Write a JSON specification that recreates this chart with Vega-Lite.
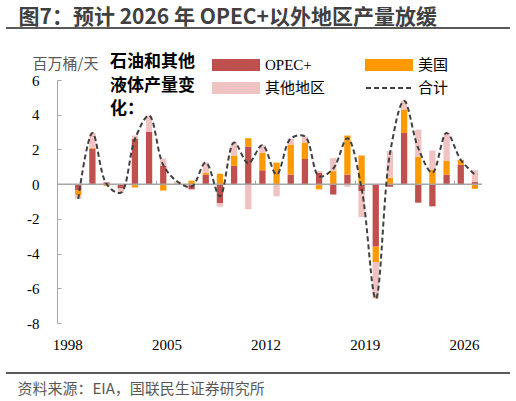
{
  "$schema": "https://vega.github.io/schema/vega-lite/v6.json",
  "width": 504,
  "height": 243,
  "autosize": {"type": "none"},
  "padding": {"left": 6, "top": 80, "right": 6, "bottom": 78},
  "background": "white",
  "config": {
    "view": {"stroke": null},
    "axis": {"labelOverlap": false},
    "locale": {"number": {"decimal": ".", "thousands": ",", "grouping": [3], "currency": ["$", ""], "minus": "-"}}
  },
  "resolve": {"axis": {"x": "independent", "y": "independent"}},
  "datasets": {
    "stackorder": [
      {"series": "OPEC+", "rank": 1},
      {"series": "美国", "rank": 2},
      {"series": "其他地区", "rank": 3}
    ],
    "parts": [
      {"year": "1999", "series": "OPEC+", "value": -0.35}, {"year": "1999", "series": "美国", "value": -0.3}, {"year": "1999", "series": "其他地区", "value": -0.2},
      {"year": "2000", "series": "OPEC+", "value": 2.05}, {"year": "2000", "series": "美国", "value": 0.05}, {"year": "2000", "series": "其他地区", "value": 0.85},
      {"year": "2001", "series": "OPEC+", "value": 0.1}, {"year": "2001", "series": "美国", "value": -0.1}, {"year": "2001", "series": "其他地区", "value": 0.0},
      {"year": "2002", "series": "OPEC+", "value": -0.25}, {"year": "2002", "series": "美国", "value": 0.0}, {"year": "2002", "series": "其他地区", "value": -0.25},
      {"year": "2003", "series": "OPEC+", "value": 2.62}, {"year": "2003", "series": "美国", "value": -0.2}, {"year": "2003", "series": "其他地区", "value": 0.18},
      {"year": "2004", "series": "OPEC+", "value": 3.02}, {"year": "2004", "series": "美国", "value": 0.0}, {"year": "2004", "series": "其他地区", "value": 0.93},
      {"year": "2005", "series": "OPEC+", "value": 1.07}, {"year": "2005", "series": "美国", "value": -0.37}, {"year": "2005", "series": "其他地区", "value": 0.4},
      {"year": "2006", "series": "OPEC+", "value": 0.02}, {"year": "2006", "series": "美国", "value": 0.03}, {"year": "2006", "series": "其他地区", "value": 0.1},
      {"year": "2007", "series": "OPEC+", "value": -0.3}, {"year": "2007", "series": "美国", "value": 0.2}, {"year": "2007", "series": "其他地区", "value": -0.05},
      {"year": "2008", "series": "OPEC+", "value": 0.55}, {"year": "2008", "series": "美国", "value": 0.1}, {"year": "2008", "series": "其他地区", "value": 0.6},
      {"year": "2009", "series": "OPEC+", "value": -1.1}, {"year": "2009", "series": "美国", "value": 0.6}, {"year": "2009", "series": "其他地区", "value": -0.2},
      {"year": "2010", "series": "OPEC+", "value": 1.05}, {"year": "2010", "series": "美国", "value": 0.6}, {"year": "2010", "series": "其他地区", "value": 0.75},
      {"year": "2011", "series": "OPEC+", "value": 2.15}, {"year": "2011", "series": "美国", "value": 0.5}, {"year": "2011", "series": "其他地区", "value": -1.45},
      {"year": "2012", "series": "OPEC+", "value": 0.8}, {"year": "2012", "series": "美国", "value": 1.0}, {"year": "2012", "series": "其他地区", "value": 0.45},
      {"year": "2013", "series": "OPEC+", "value": -0.05}, {"year": "2013", "series": "美国", "value": 1.24}, {"year": "2013", "series": "其他地区", "value": -0.65},
      {"year": "2014", "series": "OPEC+", "value": 0.55}, {"year": "2014", "series": "美国", "value": 1.73}, {"year": "2014", "series": "其他地区", "value": 0.35},
      {"year": "2015", "series": "OPEC+", "value": 1.45}, {"year": "2015", "series": "美国", "value": 0.95}, {"year": "2015", "series": "其他地区", "value": 0.35},
      {"year": "2016", "series": "OPEC+", "value": 0.65}, {"year": "2016", "series": "美国", "value": -0.3}, {"year": "2016", "series": "其他地区", "value": 0.1},
      {"year": "2017", "series": "OPEC+", "value": -0.6}, {"year": "2017", "series": "美国", "value": 0.75}, {"year": "2017", "series": "其他地区", "value": 0.75},
      {"year": "2018", "series": "OPEC+", "value": 0.55}, {"year": "2018", "series": "美国", "value": 2.25}, {"year": "2018", "series": "其他地区", "value": -0.15},
      {"year": "2019", "series": "OPEC+", "value": -0.4}, {"year": "2019", "series": "美国", "value": 1.65}, {"year": "2019", "series": "其他地区", "value": -1.5},
      {"year": "2020", "series": "OPEC+", "value": -3.6}, {"year": "2020", "series": "美国", "value": -0.9}, {"year": "2020", "series": "其他地区", "value": -2.1},
      {"year": "2021", "series": "OPEC+", "value": -0.15}, {"year": "2021", "series": "美国", "value": 0.37}, {"year": "2021", "series": "其他地区", "value": 1.53},
      {"year": "2022", "series": "OPEC+", "value": 2.95}, {"year": "2022", "series": "美国", "value": 1.35}, {"year": "2022", "series": "其他地区", "value": 0.5},
      {"year": "2023", "series": "OPEC+", "value": -1.07}, {"year": "2023", "series": "美国", "value": 1.58}, {"year": "2023", "series": "其他地区", "value": 1.56},
      {"year": "2024", "series": "OPEC+", "value": -1.28}, {"year": "2024", "series": "美国", "value": 0.84}, {"year": "2024", "series": "其他地区", "value": 1.1},
      {"year": "2025", "series": "OPEC+", "value": 0.55}, {"year": "2025", "series": "美国", "value": 0.8}, {"year": "2025", "series": "其他地区", "value": 1.6},
      {"year": "2026", "series": "OPEC+", "value": 1.12}, {"year": "2026", "series": "美国", "value": 0.28}, {"year": "2026", "series": "其他地区", "value": 0.0},
      {"year": "2027", "series": "OPEC+", "value": 0.12}, {"year": "2027", "series": "美国", "value": -0.27}, {"year": "2027", "series": "其他地区", "value": 0.68}
    ],
    "total": [
      {"year": "1999", "total": -0.85},
      {"year": "2000", "total": 2.95},
      {"year": "2001", "total": 0.0},
      {"year": "2002", "total": -0.5},
      {"year": "2003", "total": 2.6},
      {"year": "2004", "total": 3.95},
      {"year": "2005", "total": 1.1},
      {"year": "2006", "total": 0.15},
      {"year": "2007", "total": -0.15},
      {"year": "2008", "total": 1.25},
      {"year": "2009", "total": -0.7},
      {"year": "2010", "total": 2.4},
      {"year": "2011", "total": 1.2},
      {"year": "2012", "total": 2.25},
      {"year": "2013", "total": 0.55},
      {"year": "2014", "total": 2.63},
      {"year": "2015", "total": 2.75},
      {"year": "2016", "total": 0.45},
      {"year": "2017", "total": 0.9},
      {"year": "2018", "total": 2.65},
      {"year": "2019", "total": -0.25},
      {"year": "2020", "total": -6.6},
      {"year": "2021", "total": 1.75},
      {"year": "2022", "total": 4.8},
      {"year": "2023", "total": 2.07},
      {"year": "2024", "total": 0.66},
      {"year": "2025", "total": 2.95},
      {"year": "2026", "total": 1.4},
      {"year": "2027", "total": 0.55}
    ]
  },
  "layer": [
    {
      "data": {"name": "parts"},
      "transform": [
        {"lookup": "series", "from": {"data": {"name": "stackorder"}, "key": "series", "fields": ["rank"]}}
      ],
      "mark": {"type": "bar"},
      "encoding": {
        "x": {
          "field": "year",
          "type": "ordinal",
          "title": "资料来源：EIA，国联民生证券研究所",
          "scale": {
            "domain": ["1998","1999","2000","2001","2002","2003","2004","2005","2006","2007","2008","2009","2010","2011","2012","2013","2014","2015","2016","2017","2018","2019","2020","2021","2022","2023","2024","2025","2026","2027"],
            "range": [51, 476],
            "paddingInner": 0.5553,
            "paddingOuter": 0.27765,
            "align": 0.5
          },
          "axis": {
            "orient": "bottom",
            "offset": -138.86,
            "domain": false,
            "grid": false,
            "ticks": true,
            "tickSize": -4,
            "tickColor": "#A6A6A6",
            "tickWidth": 1,
            "bandPosition": 0,
            "tickOffset": -3.93,
            "labelOffset": 7.08,
            "values": ["1998","2005","2012","2019","2026"],
            "labelAngle": 0,
            "labelPadding": 164,
            "labelBaseline": "middle",
            "labelFont": "Liberation Serif",
            "labelFontSize": 15,
            "labelColor": "#000000",
            "labelOverlap": false,
            "labelFlush": false,
            "titleX": 11,
            "titleY": 204,
            "titleAlign": "left",
            "titleAnchor": null,
            "titleBaseline": "middle",
            "titleFont": "Noto Sans CJK SC",
            "titleFontSize": 15,
            "titleFontWeight": "normal",
            "titleColor": "#595959"
          }
        },
        "y": {
          "field": "value",
          "type": "quantitative",
          "stack": "zero",
          "title": "百万桶/天",
          "scale": {"domain": [-8, 6], "nice": false, "zero": false},
          "axis": {
            "orient": "left",
            "offset": -51,
            "grid": false,
            "values": [-8, -4, 0, 4],
            "format": "d",
            "domainColor": "#A6A6A6",
            "tickColor": "#A6A6A6",
            "tickSize": -4,
            "labelPadding": 22,
            "labelFont": "Liberation Serif",
            "labelFontSize": 15,
            "labelColor": "#000000",
            "labelFlush": false,
            "labelOverlap": false,
            "titleAngle": 0,
            "titleAlign": "left",
            "titleBaseline": "middle",
            "titleX": -25,
            "titleY": -17,
            "titleFont": "Noto Sans CJK SC",
            "titleFontSize": 15,
            "titleFontWeight": "normal",
            "titleColor": "#595959"
          }
        },
        "color": {
          "field": "series",
          "type": "nominal",
          "scale": {
            "domain": ["OPEC+", "美国", "其他地区", "合计"],
            "range": ["#C0504D", "#FF9900", "#F0C2C2", "#404040"]
          },
          "legend": {
            "orient": "none",
            "direction": "horizontal",
            "legendX": 104,
            "legendY": -26,
            "title": ["石油和其他", "液体产量变", "化："],
            "titleOrient": "left",
            "titleAnchor": "start",
            "titleBaseline": "top",
            "titleFont": "Noto Sans CJK SC",
            "titleFontSize": 17,
            "titleFontWeight": "bold",
            "titleColor": "#000000",
            "titleLineHeight": 23.5,
            "titlePadding": 17,
            "titleLimit": 200,
            "columns": 2,
            "columnPadding": 36,
            "rowPadding": 3,
            "padding": 0,
            "symbolSize": 400,
            "symbolType": "M-2.3,-0.5H2.3V0.5H-2.3Z",
            "symbolOffset": 13,
            "symbolStrokeWidth": 2,
            "labelOffset": 18,
            "labelFont": "Liberation Serif, Noto Sans CJK SC",
            "labelFontSize": 15,
            "labelColor": "#000000",
            "labelLimit": 200,
            "encode": {
              "symbols": {
                "update": {
                  "shape": [{"test": "datum.value === '合计'", "value": "M-2.3,0H2.3"}, {"value": "M-2.3,-0.5H2.3V0.5H-2.3Z"}],
                  "fill": [{"test": "datum.value === '合计'", "value": "transparent"}, {"scale": "color", "field": "value"}],
                  "stroke": [{"test": "datum.value === '合计'", "value": "#404040"}, {"value": "transparent"}],
                  "strokeDash": [{"test": "datum.value === '合计'", "value": [5, 3]}, {"value": []}],
                  "strokeWidth": {"value": 2},
                  "opacity": {"value": 1},
                  "size": {"value": 400}
                }
              }
            }
          }
        },
        "order": {"field": "rank", "type": "quantitative"}
      }
    },
    {
      "data": {"values": [{}]},
      "mark": {"type": "rule", "color": "#A6A6A6", "strokeWidth": 1.5},
      "encoding": {
        "x": {"datum": "1998", "type": "ordinal", "bandPosition": -0.624, "axis": null},
        "x2": {"datum": "2027", "bandPosition": 1.624},
        "y": {"datum": 0, "type": "quantitative", "axis": null}
      }
    },
    {
      "data": {"name": "total"},
      "mark": {"type": "line", "interpolate": "catmull-rom", "strokeDash": [5, 3], "strokeWidth": 2},
      "encoding": {
        "x": {
          "field": "year",
          "type": "ordinal",
          "title": "图7：预计 2026 年 OPEC+以外地区产量放缓",
          "axis": {
            "orient": "top",
            "offset": 0,
            "domain": false,
            "ticks": false,
            "labels": false,
            "grid": false,
            "titleX": 12,
            "titleY": -57,
            "titleAlign": "left",
            "titleAnchor": null,
            "titleBaseline": "alphabetic",
            "titleFont": "Noto Sans CJK SC",
            "titleFontSize": 21,
            "titleFontWeight": "bold",
            "titleColor": "#404040",
            "titleLimit": 500
          }
        },
        "y": {
          "field": "total",
          "type": "quantitative",
          "title": null,
          "axis": {
            "orient": "left",
            "offset": -51,
            "grid": false,
            "domain": false,
            "values": [-6, -2, 2, 6],
            "format": "d",
            "tickColor": "#A6A6A6",
            "tickSize": -4,
            "labelPadding": 22,
            "labelFont": "Liberation Serif",
            "labelFontSize": 15,
            "labelColor": "#000000",
            "labelFlush": false,
            "labelOverlap": false
          }
        },
        "color": {"datum": "合计", "type": "nominal"}
      }
    },
    {
      "data": {"values": [{}]},
      "mark": {"type": "rule", "color": "#595959", "strokeWidth": 2},
      "encoding": {"y": {"datum": 9.0, "type": "quantitative", "axis": null}}
    },
    {
      "data": {"values": [{}]},
      "mark": {"type": "rule", "color": "#595959", "strokeWidth": 2},
      "encoding": {"y": {"datum": -10.88, "type": "quantitative", "axis": null}}
    }
  ]
}
